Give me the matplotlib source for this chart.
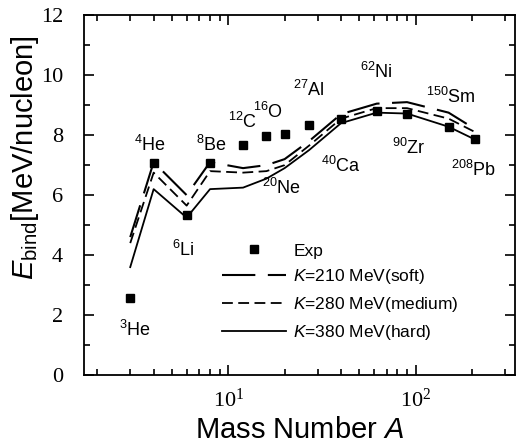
import matplotlib
matplotlib.use("Agg")
import matplotlib.pyplot as plt
from matplotlib.ticker import MultipleLocator, LogLocator

# mass numbers and binding energies per nucleon
mass_numbers = [3, 4, 6, 8, 12, 16, 20, 27, 40, 62, 90, 150, 208]
exp_energy = [2.57, 7.07, 5.33, 7.06, 7.68, 7.98, 8.03, 8.33, 8.55, 8.79, 8.71, 8.26, 7.87]
soft_energy = [4.6, 7.1, 6.0, 7.1, 6.9, 7.0, 7.2, 7.8, 8.7, 9.05, 9.1, 8.75, 8.2]
medium_energy = [4.4, 6.75, 5.65, 6.8, 6.75, 6.8, 7.0, 7.65, 8.55, 8.9, 8.9, 8.55, 8.1]
hard_energy = [3.6, 6.2, 5.25, 6.2, 6.25, 6.55, 6.9, 7.5, 8.4, 8.75, 8.72, 8.28, 7.85]

nucleus_names = ["3He", "4He", "6Li", "8Be", "12C", "16O", "20Ne", "27Al",
                 "40Ca", "62Ni", "90Zr", "150Sm", "208Pb"]
label_x = [2.6, 3.13, 5.0, 6.7, 10.0, 13.6, 15.2, 22.2, 31.3, 50.4, 74.5, 113, 155]
label_y = [1.5, 7.67, 4.17, 7.67, 8.43, 8.77, 6.23, 9.5, 6.97, 10.1, 7.57, 9.27, 6.83]

plt.rcParams["mathtext.fontset"] = "custom"
plt.rcParams["mathtext.rm"] = "Liberation Sans"
plt.rcParams["mathtext.it"] = "Liberation Sans:italic"
plt.rcParams["mathtext.bf"] = "Liberation Sans:bold"
plt.rcParams["font.family"] = "Liberation Sans"

fig = plt.figure(figsize=(5.17, 4.46), dpi=100)
ax = fig.add_axes([0.1625, 0.159, 0.834, 0.807])

ax.plot(mass_numbers, exp_energy, "s", color="black", markersize=6, linestyle="none", label="Exp")
ax.plot(mass_numbers, soft_energy, color="black", lw=1.5, dashes=(16, 6), label=r"$\it{K}$=210 MeV(soft)")
ax.plot(mass_numbers, medium_energy, color="black", lw=1.3, dashes=(6, 3), label=r"$\it{K}$=280 MeV(medium)")
ax.plot(mass_numbers, hard_energy, color="black", lw=1.3, label=r"$\it{K}$=380 MeV(hard)")

for name, x, y in zip(nucleus_names, label_x, label_y):
    digits = "".join(c for c in name if c.isdigit())
    elem = name[len(digits):]
    ax.text(x, y, r"$^{%s}$%s" % (digits, elem), fontsize=13, ha="left", va="center")

ax.set_xscale("log")
ax.set_xlim(1.7, 340)
ax.set_ylim(0, 12)
ax.yaxis.set_major_locator(MultipleLocator(2))
ax.yaxis.set_minor_locator(MultipleLocator(1))
ax.xaxis.set_major_locator(LogLocator(base=10))
ax.xaxis.set_minor_locator(LogLocator(base=10, subs=range(2, 10)))

ax.tick_params(which="both", direction="in", top=True, right=True, width=1.2)
ax.tick_params(which="major", length=7)
ax.tick_params(which="minor", length=4)
for lab in ax.get_xticklabels() + ax.get_yticklabels():
    lab.set_family("Liberation Serif")
    lab.set_fontsize(16)
ax.tick_params(axis="y", pad=15)
ax.tick_params(axis="x", pad=10)
for sp in ax.spines.values():
    sp.set_linewidth(1.3)

ax.set_xlabel(r"Mass Number $\it{A}$", fontsize=21, labelpad=3)
ax.set_ylabel(r"$\it{E}_{\rm bind}$[MeV/nucleon]", fontsize=21)
ax.yaxis.set_label_coords(-0.1, 0.605)

ax.legend(loc="upper left", bbox_to_anchor=(0.3, 0.39), frameon=False, fontsize=12.5,
          handlelength=3.7, handletextpad=0.4, labelspacing=0.5, borderpad=0)

fig.savefig("out.png", dpi=100)
